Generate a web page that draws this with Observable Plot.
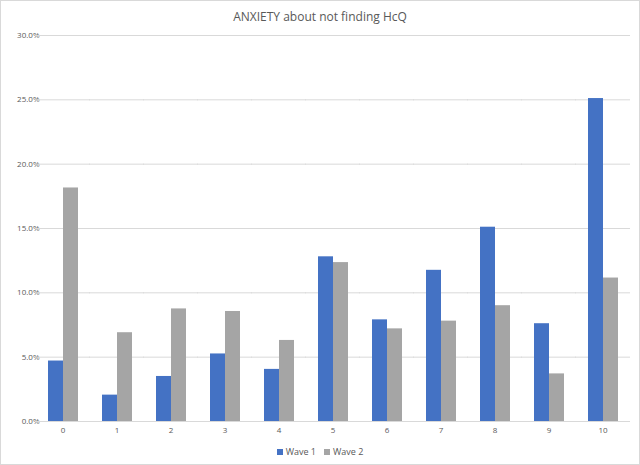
<!DOCTYPE html>
<html>
<head>
<meta charset="utf-8">
<script src="https://cdn.jsdelivr.net/npm/d3@7"></script>
<script src="https://cdn.jsdelivr.net/npm/@observablehq/plot@0.6"></script>
<style>
  html, body { margin: 0; padding: 0; background: #fff; }
  #chart { width: 640px; height: 465px; box-sizing: border-box; border: 1px solid #d9d9d9; position: relative; font-family: "Open Sans", sans-serif; color: #595959; overflow: hidden; }
  #title { height: 27px; line-height: 31px; text-align: center; font-size: 12px; color: #595959; }
  #legend { display: flex; justify-content: center; align-items: center; gap: 8px; font-size: 9px; color: #595959; margin-top: 1px; }
  #legend span.sw { display: inline-block; width: 6px; height: 6px; margin-right: 3px; }
  svg { display: block; }
</style>
</head>
<body>
<div id="chart">
  <div id="title">ANXIETY about not finding HcQ</div>
  <div id="plot"></div>
  <div id="legend"></div>
</div>
<script>
const categories = ["0","1","2","3","4","5","6","7","8","9","10"];
const series = ["Wave 1", "Wave 2"];
const wave1 = [4.7, 2.05, 3.5, 5.25, 4.05, 12.8, 7.9, 11.75, 15.1, 7.6, 25.1];
const wave2 = [18.15, 6.9, 8.75, 8.55, 6.3, 12.35, 7.2, 7.8, 9.0, 3.7, 11.15];
const colors = ["#4472C4", "#A5A5A5"];
const yTicks = [0, 5, 10, 15, 20, 25, 30];

const data = [];
categories.forEach((c, i) => {
  data.push({cat: c, wave: series[0], value: wave1[i] / 100});
  data.push({cat: c, wave: series[1], value: wave2[i] / 100});
});

const plot = Plot.plot({
  width: 638,
  height: 416,
  marginTop: 7,
  marginBottom: 23,
  marginLeft: 34,
  marginRight: 10,
  style: {fontFamily: "Open Sans, sans-serif", fontSize: "8px", color: "#595959", background: "transparent"},
  fx: {domain: categories, paddingInner: 0.43, paddingOuter: 0.215, axis: "bottom", label: null, tickSize: 0, tickPadding: 6},
  x: {domain: series, padding: 0, axis: null},
  y: {domain: [0, 0.30], ticks: yTicks.map(d => d / 100), tickFormat: d => (d * 100).toFixed(1) + "%", label: null, tickSize: 0, tickPadding: 8},
  color: {domain: series, range: colors},
  marks: [
    Plot.ruleY(yTicks.map(d => d / 100), {stroke: "#d9d9d9", strokeWidth: 1, insetLeft: -12, insetRight: -12}),
    Plot.barY(data, {fx: "cat", x: "wave", y: "value", fill: "wave"})
  ]
});
document.getElementById("plot").appendChild(plot);

const legend = document.getElementById("legend");
series.forEach((s, i) => {
  const item = document.createElement("div");
  item.innerHTML = `<span class="sw" style="background:${colors[i]}"></span>${s}`;
  legend.appendChild(item);
});
</script>
</body>
</html>
